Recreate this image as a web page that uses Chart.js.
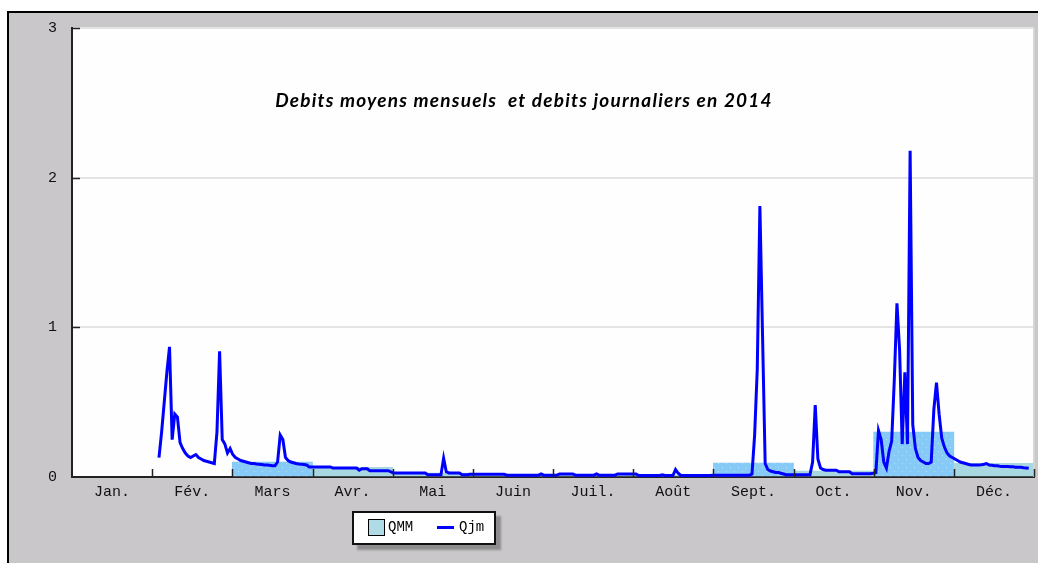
<!DOCTYPE html>
<html><head><meta charset="utf-8">
<script src="https://cdn.jsdelivr.net/npm/chart.js@4"></script>
<style>
html,body{margin:0;padding:0;background:#fff;width:1038px;height:563px;overflow:hidden;}
#frame{position:absolute;left:7px;top:11px;width:1100px;height:600px;border-left:2px solid #000;border-top:2px solid #000;background:#cac7cb;}
#wrap{position:absolute;left:0;top:0;width:1038px;height:563px;}
#legend{position:absolute;left:352px;top:511px;width:140px;height:30px;border:2px solid #111;background:#fff;box-shadow:5px 5px 2px #8d8d8d;font:14px "Liberation Mono",monospace;color:#000;}
#legend .sw{position:absolute;left:14px;top:6px;width:15px;height:15px;border:1px solid #000;background:#aedbe6;}
#legend .t1{position:absolute;left:34px;top:6px;line-height:16px;}
#legend .ln{position:absolute;left:83px;top:13px;width:17px;height:3px;background:#0000ff;}
#legend .t2{position:absolute;left:105px;top:6px;line-height:16px;}
</style>
</head>
<body>
<div id="frame"></div>
<div id="wrap"><canvas id="c" width="1038" height="563"></canvas></div>
<div id="legend"><div class="sw"></div><div class="t1">QMM</div><div class="ln"></div><div class="t2">Qjm</div></div>
<script>
const months = ['Jan.','Fév.','Mars','Avr.','Mai','Juin','Juil.','Août','Sept.','Oct.','Nov.','Déc.'];
const yTicks = [0,1,2,3];
const titleText = 'Debits moyens mensuels  et debits journaliers en 2014';
// monthly mean discharge (QMM)
const qmm = [null,null,0.10,0.065,0.027,0.015,0.013,0.012,0.093,0.04,0.30,0.092];
// daily mean discharge (Qjm), one value per day of 2014
const qjmJan = [null,null,null,null,null,null,null,null,null,null,null,null,null,null,null,null,null,null,null,null,null,null,null,null,null,null,null,null,null,null,null];
const qjmFeb = [null,null,0.13,0.30,0.50,0.70,0.87,0.25,0.42,0.40,0.23,0.19,0.16,0.14,0.13,0.14,0.15,0.13,0.12,0.11,0.105,0.10,0.095,0.09,0.30,0.84,0.25,0.22];
const qjmMar = [0.16,0.19,0.15,0.13,0.12,0.11,0.105,0.10,0.095,0.09,0.09,0.087,0.085,0.083,0.08,0.08,0.078,0.075,0.075,0.10,0.28,0.25,0.13,0.11,0.10,0.095,0.09,0.087,0.085,0.083,0.08];
const qjmApr = [0.067,0.067,0.067,0.067,0.067,0.067,0.067,0.067,0.067,0.06,0.06,0.06,0.06,0.06,0.06,0.06,0.06,0.06,0.06,0.045,0.055,0.055,0.055,0.042,0.042,0.042,0.042,0.042,0.042,0.042];
const qjmMay = [0.042,0.035,0.027,0.027,0.027,0.027,0.027,0.027,0.027,0.027,0.027,0.027,0.027,0.027,0.027,0.015,0.015,0.015,0.015,0.015,0.015,0.125,0.035,0.027,0.027,0.027,0.027,0.027,0.015,0.015,0.015];
const qjmJun = [0.018,0.018,0.018,0.018,0.018,0.018,0.018,0.018,0.018,0.018,0.018,0.018,0.018,0.018,0.012,0.012,0.012,0.012,0.012,0.012,0.012,0.012,0.012,0.012,0.012,0.012,0.012,0.02,0.012,0.012];
const qjmJul = [0.012,0.012,0.012,0.012,0.02,0.02,0.02,0.02,0.02,0.02,0.012,0.012,0.012,0.012,0.012,0.012,0.012,0.012,0.02,0.012,0.012,0.012,0.012,0.012,0.012,0.012,0.02,0.02,0.02,0.02,0.02];
const qjmAug = [0.02,0.02,0.02,0.01,0.01,0.01,0.01,0.01,0.01,0.01,0.01,0.01,0.015,0.01,0.01,0.01,0.01,0.05,0.025,0.01,0.01,0.01,0.01,0.01,0.01,0.01,0.01,0.01,0.01,0.01,0.01];
const qjmSep = [0.012,0.012,0.012,0.012,0.012,0.012,0.012,0.012,0.012,0.012,0.012,0.012,0.012,0.012,0.012,0.02,0.28,0.72,1.81,0.95,0.09,0.05,0.04,0.035,0.03,0.03,0.025,0.02,0.015,0.015];
const qjmOct = [0.015,0.015,0.015,0.015,0.015,0.015,0.015,0.015,0.10,0.48,0.12,0.06,0.05,0.045,0.045,0.045,0.045,0.045,0.035,0.035,0.035,0.035,0.035,0.022,0.022,0.022,0.022,0.022,0.022,0.022,0.022];
const qjmNov = [0.025,0.03,0.31,0.25,0.10,0.06,0.17,0.24,0.65,1.16,0.85,0.22,0.70,0.22,2.18,0.35,0.19,0.13,0.11,0.10,0.09,0.09,0.10,0.45,0.63,0.42,0.26,0.20,0.16,0.14];
const qjmDec = [0.13,0.12,0.11,0.10,0.095,0.09,0.085,0.08,0.08,0.08,0.08,0.082,0.085,0.09,0.08,0.078,0.075,0.075,0.072,0.07,0.07,0.07,0.068,0.068,0.065,0.065,0.065,0.062,0.06,0.058,null];
const qjm = [].concat(qjmJan,qjmFeb,qjmMar,qjmApr,qjmMay,qjmJun,qjmJul,qjmAug,qjmSep,qjmOct,qjmNov,qjmDec);

// styles
const skyMonths = [2,8,10];
function dotted(){
  const p=document.createElement('canvas'); p.width=8; p.height=8;
  const g=p.getContext('2d'); g.fillStyle='#86cbf8'; g.fillRect(0,0,8,8);
  g.fillStyle='#b4dffa'; g.fillRect(2,3,1,1); g.fillRect(6,7,1,1);
  return g.createPattern(p,'repeat');
}
const ctx0=document.getElementById('c').getContext('2d');
const skyPat = dotted();
const barColors = months.map((m,i)=> skyMonths.includes(i) ? skyPat : '#a7d7e1');

const deco = {
  id:'deco',
  beforeDraw(c){
    const {ctx, chartArea:a}=c;
    ctx.save(); ctx.fillStyle='#fdfefd';
    ctx.fillRect(a.left,a.top,a.right-a.left,a.bottom-a.top);
    ctx.restore();
  },
  afterDatasetsDraw(c){
    const {ctx, chartArea:a, scales}=c;
    ctx.save();
    // right edge
    ctx.strokeStyle='#d6d6d6'; ctx.lineWidth=2;
    ctx.beginPath(); ctx.moveTo(a.right,a.top); ctx.lineTo(a.right,a.bottom); ctx.stroke();
    // inward ticks
    ctx.strokeStyle='#222'; ctx.lineWidth=1.5;
    const xs=scales.x;
    for(let i=1;i<=months.length;i++){
      const px=Math.round(xs.getPixelForDecimal(i/months.length))+0.5;
      ctx.beginPath(); ctx.moveTo(px,a.bottom); ctx.lineTo(px,a.bottom-8); ctx.stroke();
    }
    const ys=scales.y;
    yTicks.slice(1).forEach(v=>{
      const py=Math.round(ys.getPixelForValue(v))+0.5;
      ctx.beginPath(); ctx.moveTo(a.left,py); ctx.lineTo(a.left+8,py); ctx.stroke();
    });
    // title
    ctx.fillStyle='#000';
    ctx.font='italic bold 19px Lato';
    try{ ctx.letterSpacing='1.2px'; }catch(e){}
    ctx.textAlign='center'; ctx.textBaseline='middle';
    ctx.fillText(titleText,524,101);
    ctx.restore();
  }
};

const tickFont={family:'Liberation Mono', size:15};
new Chart(ctx0,{
  type:'bar',
  data:{
    labels:months,
    datasets:[
      {type:'line', label:'Qjm', data:qjm.map((v,i)=>({x:i,y:v})), xAxisID:'x2', yAxisID:'y',
       borderColor:'#0000ff', borderWidth:3, pointRadius:0, tension:0, spanGaps:false, fill:false, order:1, borderJoinStyle:'miter'},
      {type:'bar', label:'QMM', data:qmm, xAxisID:'x', yAxisID:'y', backgroundColor:barColors,
       barPercentage:1, categoryPercentage:1, borderWidth:0, order:2, grouped:false}
    ]
  },
  options:{
    responsive:false, animation:false,
    layout:{padding:{top:28,right:4,bottom:0,left:0}},
    plugins:{legend:{display:false}, tooltip:{enabled:false}, title:{display:false}},
    scales:{
      x:{type:'category', position:'bottom', offset:true,
         grid:{display:false, drawTicks:false, offset:true},
         border:{display:true,color:'#222',width:2},
         ticks:{font:tickFont,color:'#111',padding:6,maxRotation:0,autoSkip:false},
         afterFit:s=>{s.height=86;}},
      x2:{type:'linear', display:false, min:0, max:365, offset:false},
      y:{type:'linear', position:'left', min:0, max:3,
         ticks:{stepSize:1,font:tickFont,color:'#111',padding:15},
         grid:{color:'#e4e4e4',lineWidth:2,drawTicks:false},
         border:{display:true,color:'#222',width:2},
         afterFit:s=>{s.width=72;}}
    }
  },
  plugins:[deco]
});
</script>
</body></html>
